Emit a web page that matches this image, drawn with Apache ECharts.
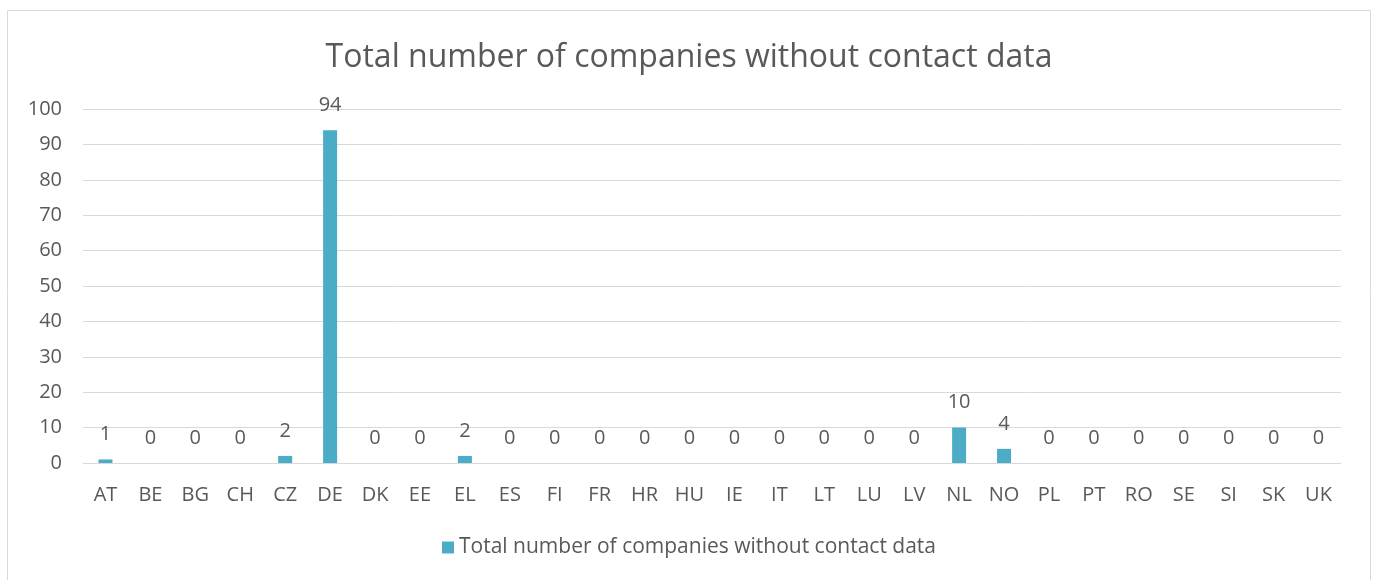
<!DOCTYPE html>
<html>
<head>
<meta charset="utf-8">
<script src="https://cdn.jsdelivr.net/npm/echarts@6/dist/echarts.min.js"></script>
<style>
html,body{margin:0;padding:0;background:#fff;}
#chart{width:1378px;height:580px;}
</style>
</head>
<body>
<div id="chart"></div>
<script>
const categories = ["AT","BE","BG","CH","CZ","DE","DK","EE","EL","ES","FI","FR","HR","HU","IE","IT","LT","LU","LV","NL","NO","PL","PT","RO","SE","SI","SK","UK"];
const values = [1,0,0,0,2,94,0,0,2,0,0,0,0,0,0,0,0,0,0,10,4,0,0,0,0,0,0,0];
const seriesName = "Total number of companies without contact data";
const titleText = "Total number of companies without contact data";

const chart = echarts.init(document.getElementById('chart'));
const font = "'Open Sans', 'Liberation Sans', sans-serif";
chart.setOption({
  animation: false,
  textStyle: {fontFamily: font},
  title: {
    text: titleText,
    left: 'center',
    top: 37,
    textStyle: {fontFamily: font, fontSize: 32, fontWeight: 'normal', color: '#595959'}
  },
  graphic: [{
    type: 'rect',
    shape: {x: 7.5, y: 10.5, width: 1363, height: 580},
    style: {fill: 'none', stroke: '#d9d9d9', lineWidth: 1},
    silent: true
  }],
  legend: {
    bottom: 17,
    left: 'center',
    itemWidth: 12,
    itemHeight: 12,
    itemGap: 5,
    icon: 'rect',
    textStyle: {fontFamily: font, fontSize: 21, color: '#595959'},
    data: [seriesName]
  },
  grid: {left: 83, right: 37, top: 109, bottom: 117},
  xAxis: {
    type: 'category',
    data: categories,
    axisLine: {lineStyle: {color: '#d9d9d9', width: 1}},
    axisTick: {show: false},
    axisLabel: {color: '#595959', fontSize: 20, margin: 22, interval: 0, fontFamily: font}
  },
  yAxis: {
    type: 'value',
    min: 0, max: 100, interval: 10,
    axisLine: {show: false},
    axisTick: {show: false},
    splitLine: {lineStyle: {color: '#d9d9d9', width: 1}},
    axisLabel: {color: '#595959', fontSize: 20, margin: 21, fontFamily: font}
  },
  series: [{
    name: seriesName,
    type: 'bar',
    data: values,
    barWidth: 14,
    itemStyle: {color: '#4bacc6'},
    label: {show: true, position: 'top', distance: 15, color: '#595959', fontSize: 20, fontFamily: font}
  }]
});
</script>
</body>
</html>
